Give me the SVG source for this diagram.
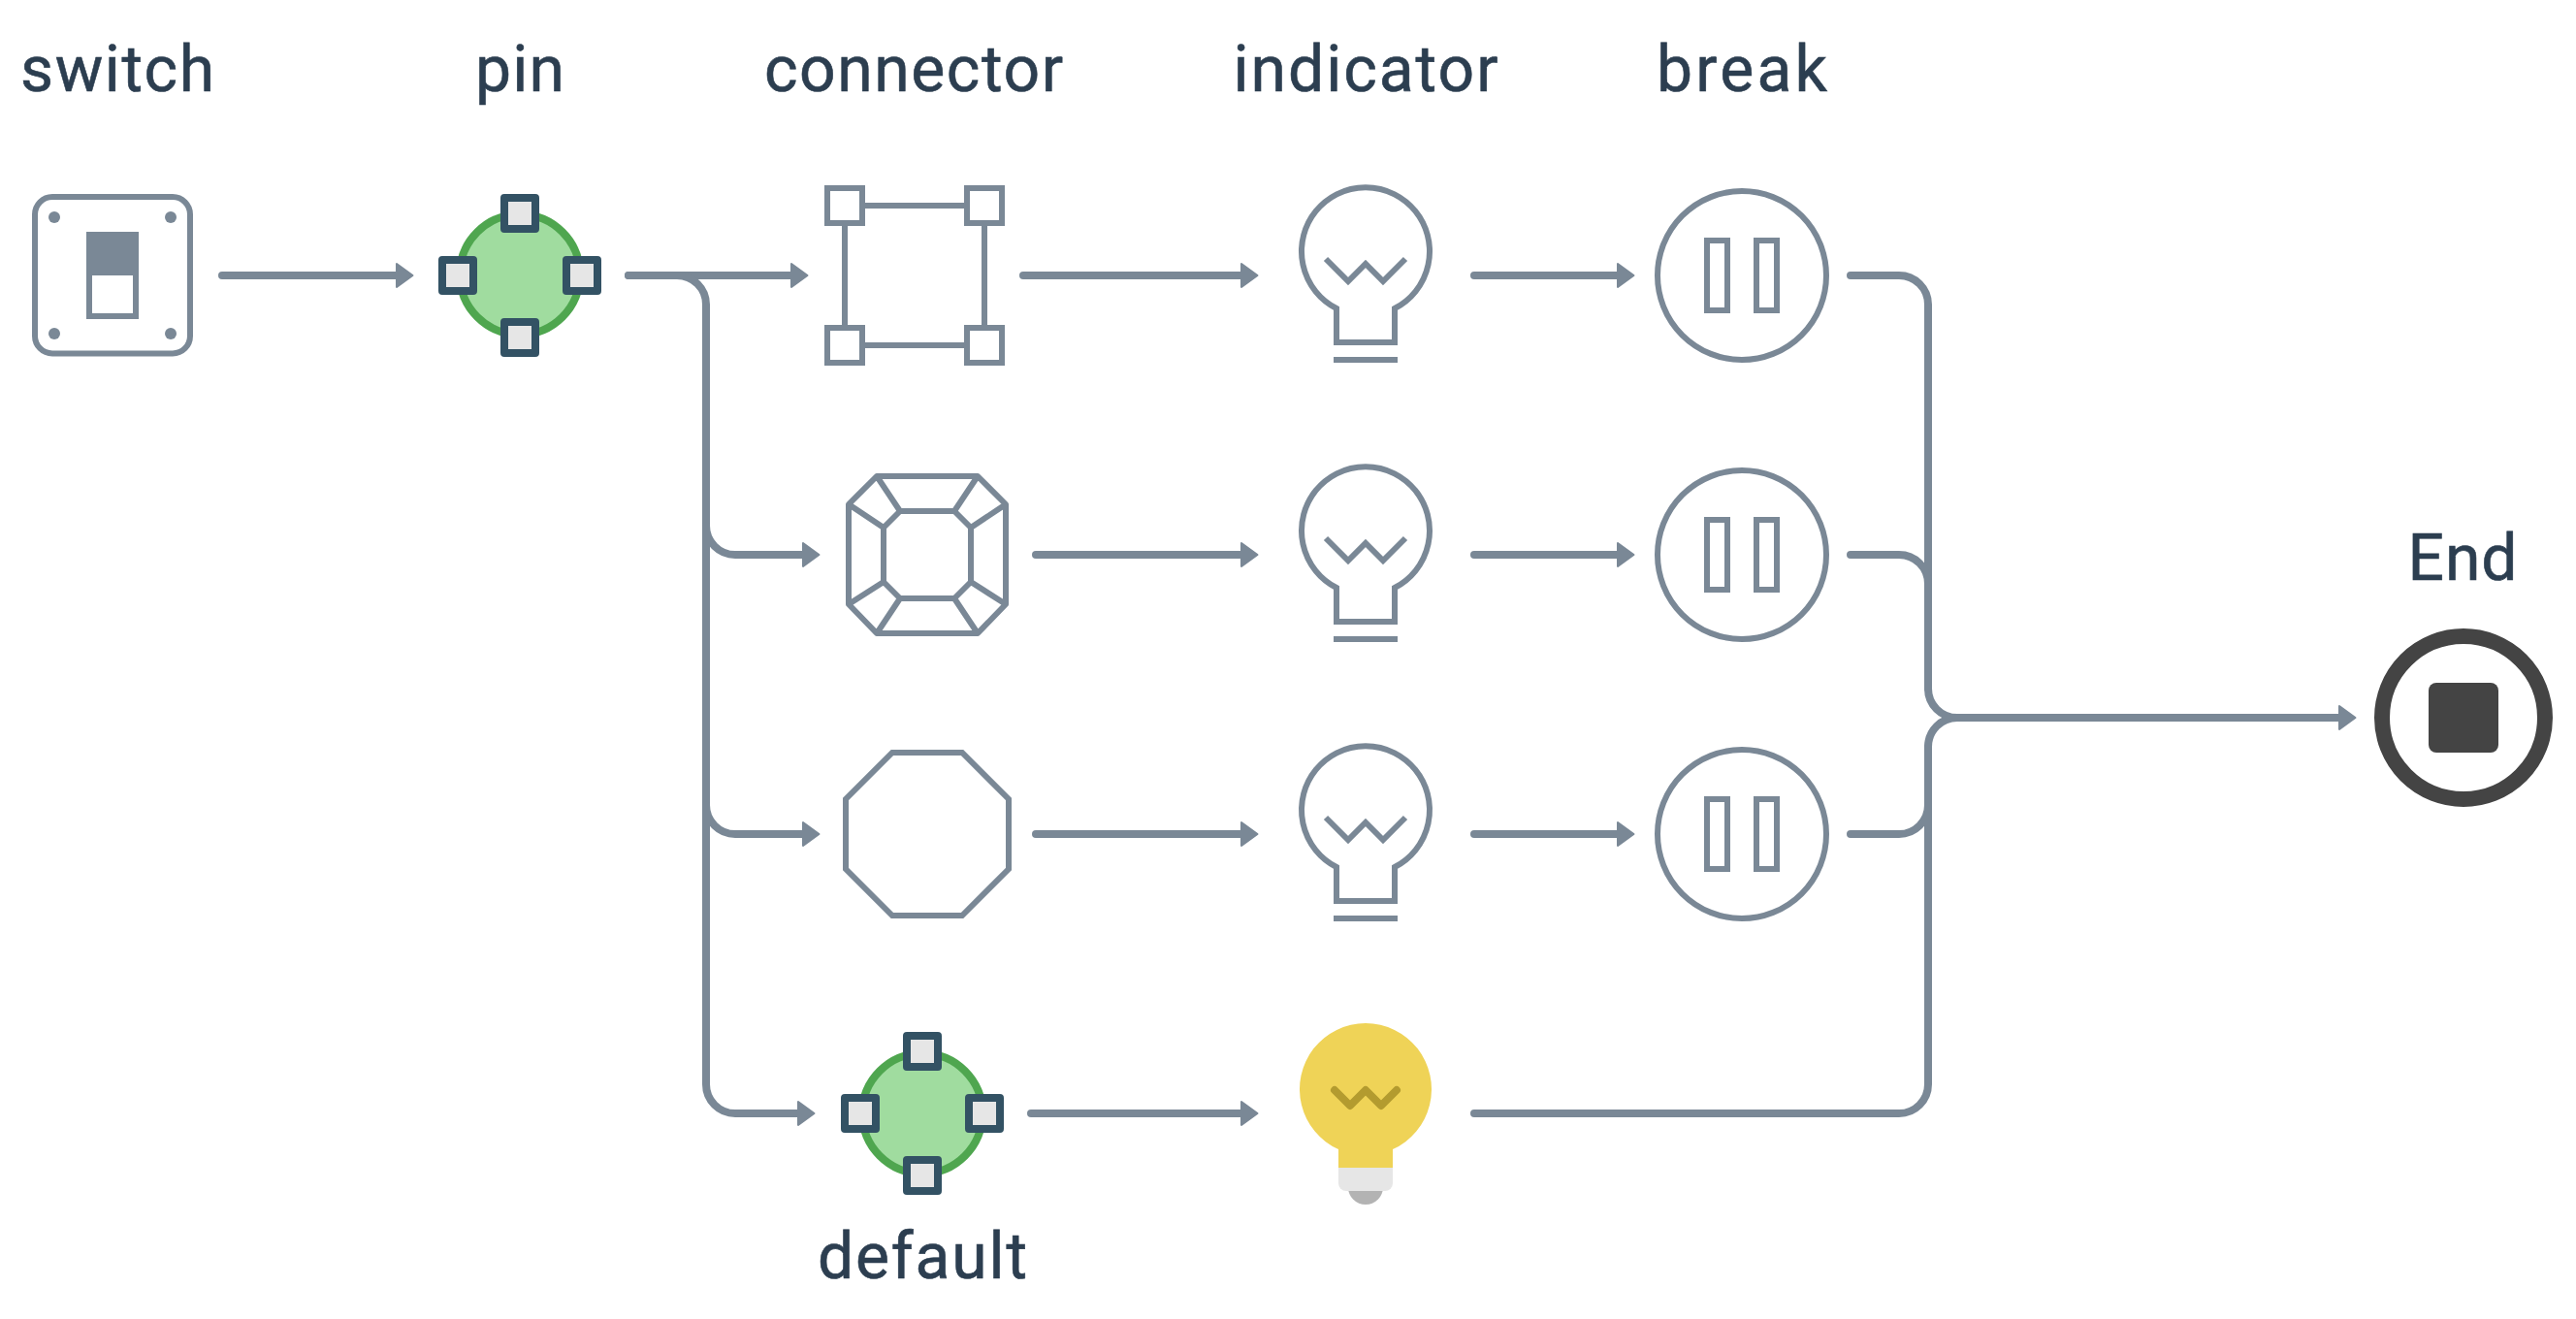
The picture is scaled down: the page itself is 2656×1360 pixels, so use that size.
<svg xmlns="http://www.w3.org/2000/svg" width="2656" height="1360" viewBox="0 0 2656 1360">
<style>
.t{font-family:Roboto,"Liberation Sans",sans-serif;font-size:66px;fill:#2c3e50;stroke:#2c3e50;stroke-width:.6;text-anchor:middle}
.c{fill:none;stroke:#7a8896;stroke-width:8;stroke-linecap:round}
.o{fill:#fff;stroke:#7a8896;stroke-width:6}
.n{fill:none;stroke:#7a8896;stroke-width:6}
.p{fill:#e6e6e6;stroke:#335264;stroke-width:8;stroke-linejoin:round}
.g{fill:#a0dc9f;stroke:#4fa64f;stroke-width:8}
</style>
<defs>
<marker id="a" markerUnits="userSpaceOnUse" markerWidth="24" markerHeight="32" refX="3" refY="16" orient="auto"><path d="M3 4L19.5 16L3 28Z" fill="#7a8896" stroke="#7a8896" stroke-width="2" stroke-linejoin="round"/></marker>
<g id="bulb"><path class="n" d="M1378 353V318A66 66 0 1 1 1438 318V353ZM1375 371H1441M1367 267L1390 290L1408 272L1426 290L1449 267"/></g>
<g id="brk"><circle class="o" cx="1796" cy="284" r="87"/><rect class="n" x="1760" y="248" width="21" height="72"/><rect class="n" x="1811" y="248" width="21" height="72"/></g>
</defs>
<text class="t" x="121" y="94" textLength="200">switch</text>
<text class="t" x="536" y="94" textLength="92">pin</text>
<text class="t" x="942" y="94" textLength="308">connector</text>
<text class="t" x="1408" y="94" textLength="273">indicator</text>
<text class="t" x="1796" y="94" textLength="176">break</text>
<text class="t" x="2539" y="598" textLength="113">End</text>
<text class="t" x="951" y="1318" textLength="216">default</text>
<g id="connectors">
<path class="c" d="M229 284H409" marker-end="url(#a)"/>
<path class="c" d="M648 284H816" marker-end="url(#a)"/>
<path class="c" d="M648 284H698A30 30 0 0 1 728 314V542A30 30 0 0 0 758 572H828" marker-end="url(#a)"/>
<path class="c" d="M728 542V830A30 30 0 0 0 758 860H828" marker-end="url(#a)"/>
<path class="c" d="M728 830V1118A30 30 0 0 0 758 1148H823" marker-end="url(#a)"/>
<path class="c" d="M1055 284H1280" marker-end="url(#a)"/>
<path class="c" d="M1068 572H1280" marker-end="url(#a)"/>
<path class="c" d="M1068 860H1280" marker-end="url(#a)"/>
<path class="c" d="M1063 1148H1280" marker-end="url(#a)"/>
<path class="c" d="M1520 284H1668" marker-end="url(#a)"/>
<path class="c" d="M1520 572H1668" marker-end="url(#a)"/>
<path class="c" d="M1520 860H1668" marker-end="url(#a)"/>
<path class="c" d="M1908 284H1958A30 30 0 0 1 1988 314V710A30 30 0 0 0 2018 740H2412" marker-end="url(#a)"/>
<path class="c" d="M1908 572H1958A30 30 0 0 1 1988 602V710"/>
<path class="c" d="M1908 860H1958A30 30 0 0 0 1988 830V770A30 30 0 0 1 2018 740"/>
<path class="c" d="M1520 1148H1958A30 30 0 0 0 1988 1118V770"/>
</g>
<g id="switch">
<rect x="36" y="203" width="160" height="161.500" rx="18" fill="#fff" stroke="#7a8896" stroke-width="6"/>
<g fill="#7a8896"><circle cx="56" cy="224" r="6"/><circle cx="176" cy="224" r="6"/><circle cx="56" cy="344" r="6"/><circle cx="176" cy="344" r="6"/></g>
<rect x="89" y="239" width="54" height="90" fill="#7a8896"/><rect x="95" y="284" width="42" height="39" fill="#fff"/>
</g>
<g id="pin">
<circle class="g" cx="536" cy="283" r="62"/>
<rect class="p" x="520" y="204" width="32" height="32"/><rect class="p" x="520" y="332" width="32" height="32"/><rect class="p" x="456" y="268" width="32" height="32"/><rect class="p" x="584" y="268" width="32" height="32"/>
</g>
<g id="connector">
<path class="n" d="M871 212H1015V356H871Z"/>
<rect class="o" x="853" y="194" width="36" height="36"/><rect class="o" x="997" y="194" width="36" height="36"/><rect class="o" x="853" y="338" width="36" height="36"/><rect class="o" x="997" y="338" width="36" height="36"/>
</g>
<g id="gem"><path class="n" stroke-linejoin="round" d="M904 491H1008L1037 520V623L1008 653H904L875 623V520ZM928 527H984L1001 544V600L984 617H928L911 600V544ZM904 491L928 527M1008 491L984 527M875 520L911 544M1037 520L1001 544M875 623L911 600M1037 623L1001 600M904 653L928 617M1008 653L984 617"/></g>
<g id="octagon"><path class="n" d="M920 776H992L1040 824V896L992 944H920L872 896V824Z"/></g>
<g id="default">
<circle class="g" cx="951" cy="1148" r="62"/>
<rect class="p" x="935" y="1068" width="32" height="32"/><rect class="p" x="935" y="1196" width="32" height="32"/><rect class="p" x="871" y="1132" width="32" height="32"/><rect class="p" x="999" y="1132" width="32" height="32"/>
</g>
<g id="indicator1"><use href="#bulb"/></g>
<g id="indicator2"><use href="#bulb" y="288"/></g>
<g id="indicator3"><use href="#bulb" y="576"/></g>
<g id="indicator4">
<path d="M1390 1224H1426A18 18 0 0 1 1390 1224Z" fill="#b3b3b3"/>
<path d="M1380 1204V1185A68 68 0 1 1 1436 1185V1204Z" fill="#efd357"/>
<path d="M1380 1204H1436V1220A8 8 0 0 1 1428 1228H1388A8 8 0 0 1 1380 1220Z" fill="#e6e6e6"/>
<path d="M1376 1124L1392 1140L1408 1124L1424 1140L1440 1124" fill="none" stroke="#b39b2f" stroke-width="8" stroke-linejoin="round" stroke-linecap="round"/>
</g>
<g id="break1"><use href="#brk"/></g>
<g id="break2"><use href="#brk" y="288"/></g>
<g id="break3"><use href="#brk" y="576"/></g>
<g id="end">
<circle cx="2540" cy="740" r="84" fill="#fff" stroke="#444" stroke-width="16"/>
<rect x="2504" y="704" width="72" height="72" rx="8" fill="#444"/>
</g>
</svg>
